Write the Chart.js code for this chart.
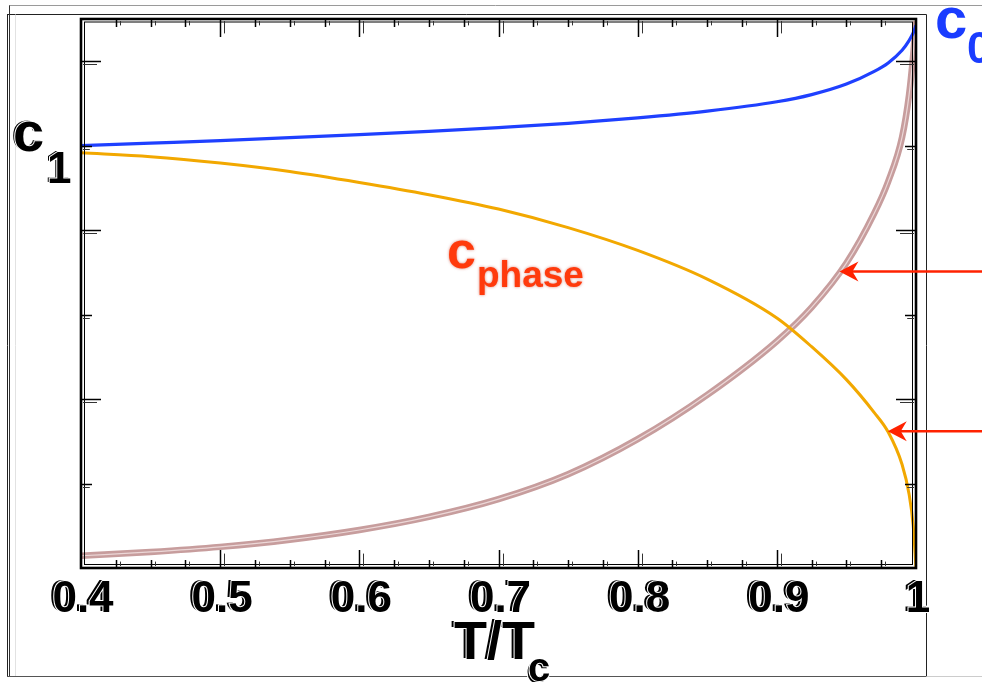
<!DOCTYPE html>
<html>
<head>
<meta charset="utf-8">
<style>
  html, body { margin: 0; padding: 0; background: #ffffff; }
  #wrap { width: 982px; height: 682px; position: relative; }
  canvas { display: block; }
</style>
<script src="https://cdn.jsdelivr.net/npm/chart.js@4.4.1/dist/chart.umd.min.js"></script>
</head>
<body>
<div id="wrap"><canvas id="chart" width="982" height="682"></canvas></div>
<script>
// Reduced temperature T/Tc
const temperature = [0.40, 0.45, 0.50, 0.55, 0.60, 0.65, 0.70, 0.75, 0.80, 0.85, 0.90, 0.925, 0.95, 0.97, 0.98, 0.99, 0.995, 0.998, 1.00];
// c0 (blue)
const speedC0 = [1.000, 1.006, 1.012, 1.019, 1.026, 1.034, 1.043, 1.053, 1.066, 1.082, 1.104, 1.121, 1.146, 1.176, 1.196, 1.226, 1.249, 1.267, 1.285];
// c1 (orange)
const speedC1 = [0.983, 0.974, 0.959, 0.939, 0.913, 0.884, 0.850, 0.806, 0.752, 0.684, 0.592, 0.524, 0.446, 0.368, 0.322, 0.245, 0.175, 0.100, 0.000];
// c_phase (pink band)
const speedPhase = [0.029, 0.038, 0.050, 0.067, 0.090, 0.121, 0.163, 0.222, 0.305, 0.410, 0.537, 0.617, 0.722, 0.840, 0.915, 1.020, 1.120, 1.215, 1.295];

// Axis ticks
const xTickValues = [0.4, 0.5, 0.6, 0.7, 0.8, 0.9, 1.0];
const xTickLabels = ['0.4', '0.5', '0.6', '0.7', '0.8', '0.9', '1'];
const yTickValues = [0.2, 0.4, 0.6, 0.8, 1.0, 1.2];

// Arrow targets on the curves (data coordinates)
const arrowTargets = [
  { x: 0.945, y: 0.702 },
  { x: 0.9797, y: 0.324 }
];

const FONT = '"Liberation Sans", Arial, Helvetica, sans-serif';

function ghostText(ctx, text, x, y, size, color, align, dx, dy) {
  ctx.save();
  ctx.font = 'bold ' + size + 'px ' + FONT;
  ctx.textAlign = align || 'left';
  ctx.textBaseline = 'alphabetic';
  ctx.lineJoin = 'round';
  const offs = [[0, 0], [dx === undefined ? 3 : dx, dy === undefined ? 1 : dy]];
  offs.forEach(([ox, oy]) => {
    ctx.strokeStyle = '#ffffff';
    ctx.lineWidth = 2;
    ctx.strokeText(text, x + ox, y + oy);
    ctx.fillStyle = color;
    ctx.fillText(text, x + ox, y + oy);
  });
  ctx.restore();
}

function line(ctx, x1, y1, x2, y2, color, w) {
  ctx.beginPath();
  ctx.strokeStyle = color;
  ctx.lineWidth = w;
  ctx.moveTo(x1, y1);
  ctx.lineTo(x2, y2);
  ctx.stroke();
}

const pageRules = {
  id: 'pageRules',
  beforeDraw(chart) {
    const ctx = chart.ctx;
    ctx.save();
    line(ctx, 9, 5.5, 982, 5.5, '#9a9a9a', 1);
    line(ctx, 7, 14.5, 926.5, 14.5, '#222222', 1);
    line(ctx, 9.5, 5.5, 9.5, 676.5, '#333333', 1);
    line(ctx, 7.5, 14.5, 7.5, 676.5, '#222222', 1);
    line(ctx, 15.5, 14.5, 15.5, 676.5, '#e2e2e2', 1);
    line(ctx, 926.5, 14.5, 926.5, 676.5, '#222222', 1);
    line(ctx, 7, 676.5, 926.5, 676.5, '#555555', 1.2);
    line(ctx, 926.5, 676.5, 982, 676.5, '#cccccc', 1.2);
    ctx.restore();
  }
};

const frameAndLabels = {
  id: 'frameAndLabels',
  afterDatasetsDraw(chart) {
    const ctx = chart.ctx;
    const a = chart.chartArea;
    const xs = chart.scales.x;
    const ys = chart.scales.y;
    ctx.save();

    // double frame
    ctx.strokeStyle = '#000000';
    ctx.lineWidth = 2.6;
    ctx.strokeRect(a.left, a.top, a.right - a.left, a.bottom - a.top);
    ctx.lineWidth = 1;
    ctx.strokeRect(a.left + 3.5, a.top + 3, a.right - a.left - 7, a.bottom - a.top - 6.5);

    // x ticks (major every 0.1, minor every 0.025), top and bottom, doubled
    for (let i = 1; i < 24; i++) {
      const v = 0.4 + i * 0.025;
      const px = Math.round(xs.getPixelForValue(v)) + 0.5;
      const len = (i % 4 === 0) ? 18 : 8;
      line(ctx, px, a.bottom, px, a.bottom - len, '#000', 1.5);
      line(ctx, px + 4, a.bottom - 2, px + 4, a.bottom - len * 0.8, '#333', 1);
      line(ctx, px, a.top, px, a.top + len, '#000', 1.5);
      line(ctx, px + 4, a.top + 2, px + 4, a.top + len * 0.8, '#333', 1);
    }
    // y ticks, left and right, doubled
    yTickValues.forEach((v, i) => {
      const py = Math.round(ys.getPixelForValue(v)) + 0.5;
      const len = (i % 2 === 1) ? 20 : 11;
      line(ctx, a.left, py, a.left + len, py, '#000', 1.5);
      line(ctx, a.left + 2, py + 3, a.left + len * 0.8, py + 3, '#333', 1);
      line(ctx, a.right, py, a.right - len, py, '#000', 1.5);
      line(ctx, a.right - 2, py + 3, a.right - len * 0.8, py + 3, '#333', 1);
    });

    // x tick labels
    xTickValues.forEach((v, i) => {
      const px = xs.getPixelForValue(v);
      ghostText(ctx, xTickLabels[i], px - 1, 611, 44, '#000000', 'center', 3, 1);
    });

    // axis title T/Tc
    ghostText(ctx, 'T/T', 451, 658, 54, '#000000', 'left', 3, 1);
    ghostText(ctx, 'c', 526, 683, 40, '#000000', 'left', 2, -2);

    // curve labels
    ghostText(ctx, 'c', 11, 150, 56, '#000000', 'left', 2, 1);
    ghostText(ctx, '1', 45, 182, 44, '#000000', 'left', 2, 1);

    ctx.save();
    ctx.font = 'bold 58px ' + FONT;
    ctx.fillStyle = '#1a3cff';
    ctx.fillText('c', 935, 38);
    ctx.font = 'bold 44px ' + FONT;
    ctx.fillText('0', 967, 63);
    ctx.restore();

    ctx.save();
    ctx.shadowColor = 'rgba(190, 30, 0, 0.55)';
    ctx.shadowBlur = 3;
    ctx.fillStyle = '#ff3a0c';
    ctx.font = 'bold 52px ' + FONT;
    ctx.fillText('c', 447, 268);
    ctx.font = 'bold 37px ' + FONT;
    ctx.fillText('phase', 477, 287);
    ctx.restore();

    // arrows from the right edge
    arrowTargets.forEach(t => {
      const tx = xs.getPixelForValue(t.x);
      const ty = ys.getPixelForValue(t.y);
      ctx.fillStyle = '#ff2200';
      line(ctx, 982, ty, tx + 12, ty, '#ff2200', 2.5);
      ctx.beginPath();
      ctx.moveTo(tx, ty);
      ctx.lineTo(tx + 19, ty - 10);
      ctx.lineTo(tx + 13, ty);
      ctx.lineTo(tx + 19, ty + 10);
      ctx.closePath();
      ctx.fill();
    });

    ctx.restore();
  }
};

const toPoints = (ys) => temperature.map((t, i) => ({ x: t, y: ys[i] }));

new Chart(document.getElementById('chart'), {
  type: 'line',
  data: {
    datasets: [
      {
        label: 'c1',
        data: toPoints(speedC1),
        borderColor: '#f2a800',
        borderWidth: 3,
        pointRadius: 0,
        cubicInterpolationMode: 'monotone',
        order: 1
      },
      {
        label: 'c0',
        data: toPoints(speedC0),
        borderColor: '#1f40ff',
        borderWidth: 3.2,
        pointRadius: 0,
        cubicInterpolationMode: 'monotone',
        order: 2
      },
      {
        label: 'c_phase core',
        data: toPoints(speedPhase),
        borderColor: 'rgba(240, 222, 222, 0.9)',
        borderWidth: 1.2,
        pointRadius: 0,
        cubicInterpolationMode: 'monotone',
        order: 3
      },
      {
        label: 'c_phase',
        data: toPoints(speedPhase),
        borderColor: '#c79d9d',
        borderWidth: 6.5,
        pointRadius: 0,
        cubicInterpolationMode: 'monotone',
        order: 4
      }
    ]
  },
  options: {
    responsive: false,
    animation: false,
    devicePixelRatio: 1,
    layout: { padding: { left: 81, right: 66, top: 19, bottom: 114 } },
    plugins: { legend: { display: false }, tooltip: { enabled: false }, title: { display: false } },
    scales: {
      x: { type: 'linear', min: 0.4, max: 1.0, display: false },
      y: { type: 'linear', min: 0, max: 1.3, display: false }
    }
  },
  plugins: [pageRules, frameAndLabels]
});
</script>
</body>
</html>
